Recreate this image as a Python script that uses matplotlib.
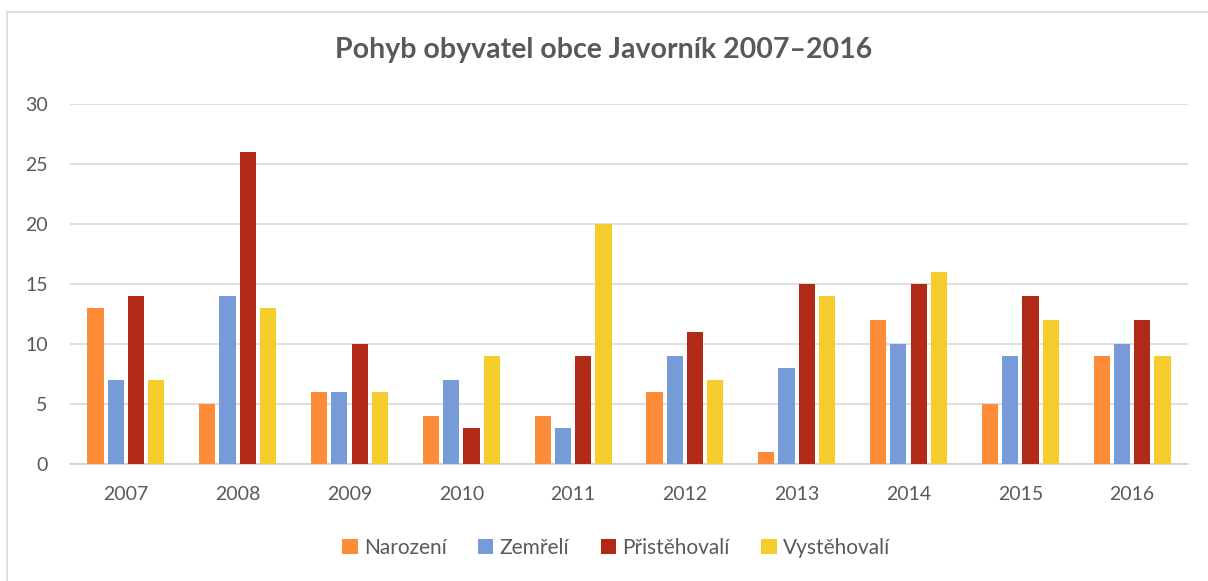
import matplotlib
matplotlib.use('Agg')
import matplotlib.pyplot as plt
import matplotlib.patches as mpatches
import numpy as np

years = ["2007", "2008", "2009", "2010", "2011", "2012", "2013", "2014", "2015", "2016"]
narozeni = [13, 5, 6, 4, 4, 6, 1, 12, 5, 9]
zemreli = [7, 14, 6, 7, 3, 9, 8, 10, 9, 10]
pristehovali = [14, 26, 10, 3, 9, 11, 15, 15, 14, 12]
vystehovali = [7, 13, 6, 9, 20, 7, 14, 16, 12, 9]

series = [
    ("Narození", narozeni, "#FD8B38"),
    ("Zemřelí", zemreli, "#779BD9"),
    ("Přistěhovalí", pristehovali, "#B02A17"),
    ("Vystěhovalí", vystehovali, "#F4CD2D"),
]

plt.rcParams['font.family'] = ['Lato', 'DejaVu Sans']
TXT = "#595959"

fig = plt.figure(figsize=(12.08, 5.81), dpi=100)
fig.patch.set_facecolor("white")
ax = fig.add_axes([70 / 1208, 1 - 464 / 581, 1118 / 1208, 360 / 581])

# chart border
fig.patches.append(mpatches.Rectangle((7 / 1208, -0.01), 1.1, 1 - 12 / 581 + 0.01,
                                      transform=fig.transFigure, fill=False,
                                      edgecolor="#D9D9D9", linewidth=1.2))

x = np.arange(len(years))
pitch = 0.181
width = 0.145
for i, (name, vals, col) in enumerate(series):
    ax.bar(x + (i - 1.5) * pitch, vals, width=width, color=col, label=name, zorder=3)

ax.set_xlim(-0.5, len(years) - 0.5)
ax.set_ylim(0, 30)
ax.set_yticks(range(0, 31, 5))
ax.set_xticks(x)
ax.set_xticklabels(years)
ax.yaxis.grid(True, color="#D9D9D9", linewidth=1.2, zorder=0)
ax.set_axisbelow(True)
for s in ["top", "right", "left"]:
    ax.spines[s].set_visible(False)
ax.spines["bottom"].set_color("#D0D0D0")
ax.spines["bottom"].set_linewidth(1.2)
ax.tick_params(axis="both", length=0, colors=TXT, labelsize=14)
ax.tick_params(axis="y", pad=16)
ax.tick_params(axis="x", pad=16)

fig.text(0.5, 1 - 50 / 581, "Pohyb obyvatel obce Javorník 2007–2016", ha="center", va="center",
         fontsize=20.5, fontweight="bold", color=TXT)

leg = ax.legend(loc="center", bbox_to_anchor=(0.51, 1 - 548 / 581), bbox_transform=fig.transFigure,
                ncol=4, frameon=False, fontsize=15, handlelength=0.75, handleheight=0.75,
                handletextpad=0.3, columnspacing=1.5)
for t in leg.get_texts():
    t.set_color(TXT)

fig.savefig("out.png", dpi=100, facecolor="white")
